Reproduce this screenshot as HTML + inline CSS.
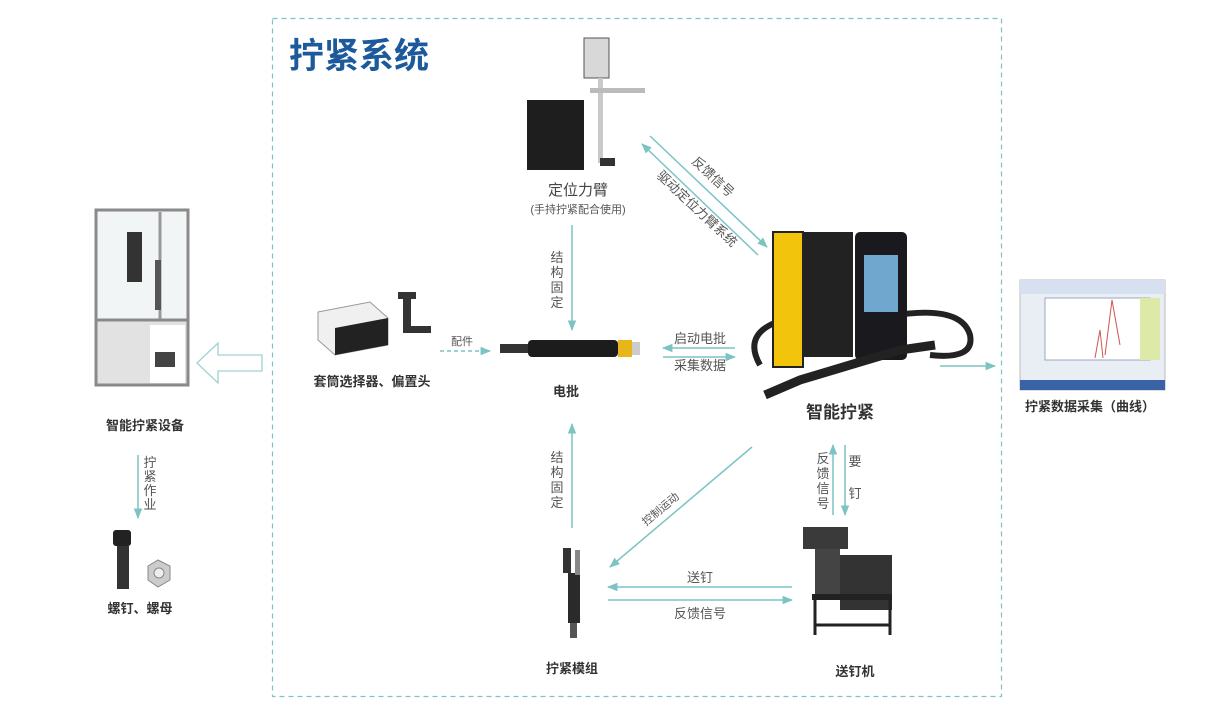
<!DOCTYPE html>
<html><head><meta charset="utf-8"><style>
html,body{margin:0;padding:0;background:#fff;}
svg{display:block;}
text{font-family:"Liberation Sans","Noto Sans CJK SC",sans-serif;}
.l{font-size:13px;fill:#555;}
.b{font-size:13px;font-weight:bold;fill:#333;}
</style></head><body>
<svg width="1220" height="721" viewBox="0 0 1220 721" xmlns="http://www.w3.org/2000/svg">
<defs>
<marker id="a" viewBox="0 0 10 10" refX="9" refY="5" markerWidth="7" markerHeight="7" orient="auto-start-reverse"><path d="M0,1 L10,5 L0,9 z" fill="#7cc3c3"/></marker>
</defs>
<rect x="272.5" y="18.5" width="729" height="678" fill="none" stroke="#7cc3c3" stroke-width="1.2" stroke-dasharray="5,4"/>
<text x="289" y="68" font-size="35" font-weight="bold" fill="#1c5a9c">拧紧系统</text>

<g stroke="#7cc3c3" stroke-width="1.5" fill="none">
<line x1="572" y1="225" x2="572" y2="330" marker-end="url(#a)"/>
<line x1="572" y1="528" x2="572" y2="424" marker-end="url(#a)"/>
<line x1="440" y1="351" x2="490" y2="351" stroke-dasharray="4,3" marker-end="url(#a)"/>
<line x1="735" y1="348" x2="663" y2="348" marker-end="url(#a)"/>
<line x1="663" y1="357" x2="735" y2="357" marker-end="url(#a)"/>
<line x1="758" y1="255" x2="642" y2="144" marker-end="url(#a)"/>
<line x1="650" y1="136" x2="767" y2="247" marker-end="url(#a)"/>
<line x1="940" y1="366" x2="995" y2="366" marker-end="url(#a)"/>
<line x1="752" y1="447" x2="610" y2="567" marker-end="url(#a)"/>
<line x1="833" y1="515" x2="833" y2="445" marker-end="url(#a)"/>
<line x1="845" y1="445" x2="845" y2="515" marker-end="url(#a)"/>
<line x1="792" y1="587" x2="608" y2="587" marker-end="url(#a)"/>
<line x1="608" y1="600" x2="792" y2="600" marker-end="url(#a)"/>
<line x1="138" y1="455" x2="138" y2="518" marker-end="url(#a)"/>
</g>
<path d="M262,355 L218,355 L218,343 L197,363 L218,383 L218,371 L262,371 z" fill="#fff" stroke="#9fd3d3" stroke-width="1.3"/>

<!-- positioning arm -->
<rect x="527" y="100" width="57" height="70" fill="#1e1e1e"/>
<rect x="584" y="38" width="25" height="40" fill="#d8d8d8" stroke="#555"/>
<rect x="598" y="78" width="5" height="85" fill="#c9c9c9"/>
<rect x="590" y="88" width="55" height="5" fill="#bbb"/>
<rect x="600" y="158" width="15" height="8" fill="#333"/>
<text x="578" y="195" text-anchor="middle" font-size="15" fill="#444">定位力臂</text>
<text x="578" y="213" text-anchor="middle" font-size="11" fill="#555">(手持拧紧配合使用)</text>

<!-- screwdriver -->
<rect x="500" y="344" width="28" height="9" fill="#333"/>
<rect x="528" y="340" width="90" height="17" rx="4" fill="#1c1c1c"/>
<rect x="618" y="340" width="14" height="17" fill="#e8b619"/>
<rect x="632" y="342" width="8" height="13" fill="#ccc"/>
<text x="566" y="396" text-anchor="middle" class="b">电批</text>

<!-- socket selector -->
<path d="M318,312 L370,302 L388,318 L388,345 L335,355 L318,340 z" fill="#f0f0f0" stroke="#999"/>
<path d="M335,328 L388,318 L388,345 L335,355 z" fill="#222"/>
<rect x="403" y="295" width="8" height="38" fill="#333"/>
<rect x="398" y="292" width="18" height="7" fill="#333"/>
<rect x="403" y="326" width="28" height="7" fill="#333"/>
<text x="372" y="386" text-anchor="middle" class="b">套筒选择器、偏置头</text>
<text x="462" y="345" text-anchor="middle" font-size="11" fill="#555">配件</text>

<!-- controller -->
<path d="M760,365 Q740,330 790,318 M870,320 Q960,300 970,335 Q975,360 930,355" stroke="#222" stroke-width="6" fill="none"/>
<rect x="773" y="232" width="30" height="135" fill="#f2c40c" stroke="#222" stroke-width="2"/>
<rect x="803" y="232" width="50" height="125" fill="#222"/>
<rect x="855" y="232" width="52" height="128" rx="5" fill="#1a1a1e"/>
<rect x="864" y="255" width="34" height="57" fill="#6fa7cf"/>
<path d="M765,395 L800,380 L900,350 L935,345" stroke="#222" stroke-width="9" fill="none"/>
<text x="840" y="418" text-anchor="middle" font-size="17" font-weight="bold" fill="#333">智能拧紧</text>

<!-- data screenshot -->
<rect x="1020" y="280" width="145" height="110" fill="#e9eef5" stroke="#bbb"/>
<rect x="1020" y="280" width="145" height="14" fill="#d6e0ee"/>
<rect x="1045" y="298" width="105" height="62" fill="#fff" stroke="#9ab"/>
<rect x="1140" y="298" width="20" height="62" fill="#dde9a8"/>
<path d="M1095,358 L1100,330 L1103,358 M1105,355 L1112,300 L1120,345" stroke="#c55" fill="none"/>
<rect x="1020" y="380" width="145" height="10" fill="#3a62a6"/>
<text x="1090" y="411" text-anchor="middle" class="b">拧紧数据采集（曲线）</text>

<!-- module -->
<rect x="563" y="548" width="8" height="25" fill="#333"/>
<rect x="568" y="573" width="12" height="50" fill="#2a2a2a"/>
<rect x="575" y="550" width="5" height="25" fill="#888"/>
<rect x="570" y="623" width="7" height="15" fill="#555"/>
<text x="572" y="673" text-anchor="middle" class="b">拧紧模组</text>

<!-- feeder -->
<rect x="803" y="527" width="45" height="22" fill="#3a3a3a"/>
<rect x="815" y="549" width="25" height="45" fill="#444"/>
<rect x="840" y="555" width="52" height="55" fill="#333"/>
<rect x="812" y="594" width="80" height="6" fill="#222"/>
<path d="M815,600 V635 M890,600 V635 M815,625 H890" stroke="#222" stroke-width="3"/>
<text x="855" y="676" text-anchor="middle" class="b">送钉机</text>

<!-- machine -->
<rect x="96" y="210" width="92" height="110" fill="#f2f5f6" stroke="#8a8a8a" stroke-width="3"/>
<line x1="160" y1="212" x2="160" y2="320" stroke="#999" stroke-width="3"/>
<rect x="127" y="232" width="15" height="50" fill="#333"/>
<rect x="155" y="260" width="6" height="50" fill="#555"/>
<rect x="96" y="320" width="92" height="65" fill="#e2e2e2" stroke="#8a8a8a" stroke-width="3"/>
<rect x="150" y="325" width="35" height="58" fill="#fff"/>
<rect x="155" y="352" width="20" height="15" fill="#444"/>
<text x="145" y="430" text-anchor="middle" class="b">智能拧紧设备</text>

<!-- screw nut -->
<rect x="113" y="530" width="18" height="16" rx="3" fill="#222"/>
<rect x="117" y="546" width="12" height="43" fill="#333"/>
<polygon points="148,566 158,560 170,566 170,580 158,587 148,580" fill="#ccc" stroke="#888"/>
<circle cx="159" cy="573" r="5" fill="#eee" stroke="#888"/>
<text x="140" y="613" text-anchor="middle" class="b">螺钉、螺母</text>

<!-- labels -->
<g class="l" text-anchor="middle">
<text x="557" y="262">结</text><text x="557" y="277">构</text><text x="557" y="292">固</text><text x="557" y="307">定</text>
<text x="557" y="462">结</text><text x="557" y="477">构</text><text x="557" y="492">固</text><text x="557" y="507">定</text>
<text x="700" y="343">启动电批</text>
<text x="700" y="370">采集数据</text>
<text x="700" y="582">送钉</text>
<text x="700" y="618">反馈信号</text>
<text x="823" y="463">反</text><text x="823" y="478">馈</text><text x="823" y="493">信</text><text x="823" y="508">号</text>
<text x="855" y="466">要</text><text x="855" y="498">钉</text>
<text x="150" y="467">拧</text><text x="150" y="481">紧</text><text x="150" y="495">作</text><text x="150" y="509">业</text>
</g>
<text x="710" y="180" class="l" text-anchor="middle" transform="rotate(43 710 180)">反馈信号</text>
<text x="694" y="212" class="l" text-anchor="middle" transform="rotate(43 694 212)">驱动定位力臂系统</text>
<text x="663" y="512" font-size="11" fill="#555" text-anchor="middle" transform="rotate(-40 663 512)">控制运动</text>
</svg>
</body></html>
